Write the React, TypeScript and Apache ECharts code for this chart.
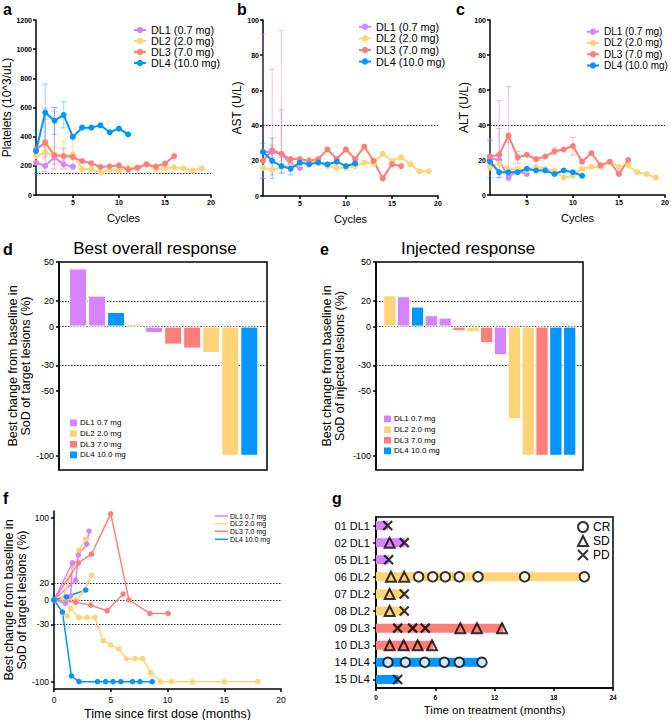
import React, { useEffect, useRef } from 'react';
import * as echarts from 'echarts';

const FONT = "'Liberation Sans', Arial, Helvetica, sans-serif";
const COLORS = ['#D783FF', '#FFD479', '#FF7E79', '#0096FF'];
const COLORS_ERR = ['rgba(215,131,255,0.45)', 'rgba(255,200,100,0.55)', 'rgba(255,126,121,0.45)', 'rgba(0,150,255,0.35)'];
const namesTop = ['DL1 (0.7 mg)', 'DL2 (2.0 mg)', 'DL3 (7.0 mg)', 'DL4 (10.0 mg)'];
const namesBars = ['DL1 0.7 mg', 'DL2 2.0 mg', 'DL3 7.0 mg', 'DL4 10.0 mg'];
const cycleTicks = [5, 10, 15, 20];
const responseTicks = [50, 20, 0, -30, -50, -100];
const responseRefLines = [20, 0, -30];
const timeTicks = [100, 20, 0, -30, -100];

// a: platelets
const plateletsDL1 = [221, 200, 258, 210, 194];
const plateletsDL2 = [267, 290, 274, 267, 279, 178, 178, 153, 174, 167, 187, 180, 212, 178, 183, 190, 183, 167, 183];
const plateletsDL3 = [313, 359, 272, 267, 260, 233, 218, 192, 197, 203, 174, 188, 210, 195, 215, 267];
const plateletsDL4 = [300, 565, 510, 549, 398, 462, 462, 478, 430, 455, 416];
const plateletsErrDL1 = [[2, 160, 595], [3, 210, 600], [4, 180, 240]];
const plateletsErrDL2 = [[1, 230, 300], [2, 200, 380], [3, 210, 330], [4, 180, 370], [5, 200, 410]];
const plateletsErrDL3 = [[1, 270, 340], [2, 260, 520], [3, 180, 575], [4, 220, 320]];
const plateletsErrDL4 = [[1, 150, 445], [2, 370, 760], [3, 415, 600], [4, 460, 640]];
const plateletsLimit = 150;

// b: AST
const astDL1 = [25, 25, 24, 18, 16];
const astDL2 = [16, 15, 16, 17, 18, 20, 19, 17, 16, 16, 17, 19, 18.5, 24, 20, 22, 18, 14, 14];
const astDL3 = [20, 26, 24, 21, 21, 20, 21, 26.5, 21, 26.5, 21, 28, 20, 10, 18, 17];
const astDL4 = [25, 20, 17, 15.5, 19, 18, 19, 18, 19.5, 17, 18.5];
const astErrDL1 = [[1, 10, 92], [2, 12, 72], [3, 13, 94]];
const astErrDL2 = [[5, 16, 21], [6, 18, 22]];
const astErrDL3 = [[2, 22, 29], [3, 20, 49]];
const astErrDL4 = [[1, 10, 30], [2, 10, 33], [3, 13, 22], [4, 12, 18]];
const astLimit = 40;

// c: ALT
const altDL1 = [21, 20, 10, 14, 12];
const altDL2 = [16, 18, 15, 14.5, 14, 16, 15, 14, 10, 11, 15, 16, 16, 19, 16, 17, 13, 12, 10];
const altDL3 = [22, 23, 34, 21.5, 23, 20.5, 22, 25, 26, 28, 19, 24, 17, 19, 12, 20];
const altDL4 = [19, 13, 13, 13, 15, 14, 14, 12, 14, 13, 11];
const altErrDL1 = [[1, 16, 32], [2, 10, 54], [3, 8, 62], [4, 12, 16]];
const altErrDL2 = [[1, 14, 18]];
const altErrDL3 = [[2, 20, 38], [3, 30, 35], [4, 18, 25], [8, 23, 27], [10, 23, 33]];
const altErrDL4 = [[1, 10, 31], [2, 10, 20]];
const altLimit = 40;

// d: best overall response
const bestValues = [45, 24, 11.3, 2.2, -5, -14, -17, -20.5, -100, -100];
const bestGroups = [1, 1, 4, 2, 1, 3, 3, 2, 2, 4];
// e: injected response
const injValues = [24.3, 23.5, 15.5, 8.8, 7, -3.6, -4.4, -12.9, -22.2, -71.8, -100, -100, -100, -100];
const injGroups = [2, 1, 4, 1, 1, 3, 2, 3, 1, 2, 2, 3, 4, 4];

// f: change over time, one track per patient
const fTracks = [
  { group: 1, data: [[0, 0], [1.0, -4.5], [1.47, 4.5], [1.62, 45]] },
  { group: 1, data: [[0, 0], [1.92, 24], [2.15, 55], [2.89, 68], [3.09, 84]] },
  { group: 1, data: [[0, 0], [1.62, 45]] },
  { group: 2, data: [[0, 0], [0.74, -16], [1.15, -20], [1.47, -10.5], [2.2, -21.5], [2.9, -21.5], [3.6, -21.5], [4.33, -50], [5.0, -55], [5.71, -60], [6.39, -72], [7.13, -72], [7.8, -72], [8.5, -88.6], [9.39, -100], [10.36, -100], [12.18, -100], [15, -100], [17.95, -100]] },
  { group: 2, data: [[0, 0], [0.8, 2.4], [2.2, 60.6], [2.8, 74]] },
  { group: 2, data: [[0, 0], [1.97, 0], [2.65, 11], [3.3, 30]] },
  { group: 3, data: [[0, 0], [2.15, 45], [3.3, 55.7], [5.0, 105], [6.6, 0], [8.45, -16.6], [10.06, -16.6]] },
  { group: 3, data: [[0, 0], [1.9, -3], [3.24, -6.5], [4.68, -13.4], [6.09, 7]] },
  { group: 4, data: [[0, 0], [0.75, -15], [1.53, -93], [2.2, -100], [3.83, -100], [4.54, -100], [5.2, -100], [5.88, -100], [6.92, -100], [7.57, -100], [8.65, -100]] },
  { group: 4, data: [[0, 0], [1.09, 3.7], [2.8, 12]] },
];

// g: swimmer plot
const gPatients = ['01 DL1', '02 DL1', '05 DL1', '06 DL2', '07 DL2', '08 DL2', '09 DL3', '10 DL3', '14 DL4', '15 DL4'];
const gDuration = [1.2, 2.9, 1.3, 21.4, 2.9, 2.9, 12.9, 5.8, 11.0, 2.3];
const gGroups = [1, 1, 1, 2, 2, 2, 3, 3, 4, 4];
const gCR = [[4.32, '06 DL2'], [5.74, '06 DL2'], [7.02, '06 DL2'], [8.43, '06 DL2'], [10.33, '06 DL2'], [15.05, '06 DL2'], [21.1, '06 DL2'],
  [1.21, '14 DL4'], [2.97, '14 DL4'], [4.93, '14 DL4'], [6.92, '14 DL4'], [8.43, '14 DL4'], [10.73, '14 DL4']];
const gSD = [[1.38, '02 DL1'], [1.52, '06 DL2'], [2.86, '06 DL2'], [1.38, '07 DL2'], [1.38, '08 DL2'], [8.54, '09 DL3'], [10.22, '09 DL3'], [12.76, '09 DL3'],
  [1.38, '10 DL3'], [2.8, '10 DL3'], [4.22, '10 DL3'], [5.67, '10 DL3']];
const gPD = [[1.18, '01 DL1'], [2.86, '02 DL1'], [1.28, '05 DL1'], [2.86, '07 DL2'], [2.86, '08 DL2'], [2.19, '09 DL3'], [3.71, '09 DL3'], [4.99, '09 DL3'], [2.19, '15 DL4']];

const num = (v: any) => String(v);
const aLine = (extra: any = {}) => ({ show: true, onZero: false, lineStyle: { color: '#000', width: 1.5 }, ...extra });
const aTick = (extra: any = {}) => ({ show: true, inside: false, length: 3, lineStyle: { color: '#000', width: 1.5 }, ...extra });
const aLabel = (fontSize: number, extra: any = {}) => ({ show: true, color: '#000', fontSize, fontFamily: FONT, fontWeight: 'normal', formatter: num, ...extra });
const nStyle = (fontSize: number, extra: any = {}) => ({ color: '#000', fontSize, fontFamily: FONT, fontWeight: 'normal', ...extra });

function buildOption() {
  const grid = [
    { left: 36, top: 20, width: 175, height: 175 },
    { left: 263, top: 20, width: 175, height: 176 },
    { left: 490, top: 20, width: 175, height: 175 },
    { left: 59, top: 262, width: 208, height: 208, show: true, borderColor: '#000', borderWidth: 1.5, backgroundColor: 'transparent' },
    { left: 376, top: 262, width: 207, height: 208, show: true, borderColor: '#000', borderWidth: 1.5, backgroundColor: 'transparent' },
    { left: 54, top: 511, width: 227, height: 178 },
    { left: 376, top: 517, width: 237, height: 171, show: true, borderColor: '#000', borderWidth: 1.5, backgroundColor: 'transparent' },
  ].map((g) => ({ containLabel: false, outerBoundsMode: 'none', ...g }));

  const cycleX = (gi: number) => ({
    type: 'value', gridIndex: gi, min: 1, max: 20,
    axisLine: aLine(), axisTick: aTick({ customValues: cycleTicks }),
    axisLabel: aLabel(7, { fontWeight: 'bold', margin: 4, customValues: cycleTicks }),
    splitLine: { show: false },
    name: 'Cycles', nameLocation: 'middle', nameGap: 17, nameTextStyle: nStyle(11),
  });
  const labY = (gi: number, max: number, interval: number, name: string, nameGap: number) => ({
    type: 'value', gridIndex: gi, min: 0, max, interval,
    axisLine: aLine(), axisTick: aTick(), axisLabel: aLabel(7, { fontWeight: 'bold', margin: 4 }),
    splitLine: { show: false },
    name, nameLocation: 'middle', nameGap, nameTextStyle: nStyle(12),
  });

  const xAxis: any[] = [
    cycleX(0), cycleX(1), cycleX(2),
    { type: 'value', gridIndex: 3, min: 0, max: 10.93, show: false, splitLine: { show: false } },
    { type: 'value', gridIndex: 4, min: 0, max: 14.96, show: false, splitLine: { show: false } },
    {
      type: 'value', gridIndex: 5, min: 0, max: 20, interval: 5,
      axisLine: aLine(), axisTick: aTick(), axisLabel: aLabel(8.5, { margin: 6 }), splitLine: { show: false },
      name: 'Time since first dose (months)', nameLocation: 'middle', nameGap: 18, nameTextStyle: nStyle(12.5),
    },
    {
      type: 'value', gridIndex: 6, min: 0, max: 24, interval: 6,
      axisLine: aLine(), axisTick: aTick(), axisLabel: aLabel(6.5, { fontWeight: 'bold', margin: 6 }), splitLine: { show: false },
      name: 'Time on treatment (months)', nameLocation: 'middle', nameGap: 16, nameTextStyle: nStyle(11.5),
    },
  ];
  const respY = (gi: number, name: string, nameGap: number) => ({
    type: 'value', gridIndex: gi, min: -111, max: 50,
    axisLine: aLine(), axisTick: aTick({ customValues: responseTicks }),
    axisLabel: aLabel(9, { margin: 5, customValues: responseTicks }), splitLine: { show: false },
    name, nameLocation: 'middle', nameGap, nameTextStyle: nStyle(12.5, { lineHeight: 13 }),
  });
  const yAxis: any[] = [
    labY(0, 1200, 200, 'Platelets (10^3/uL)', 21),
    labY(1, 100, 20, 'AST (U/L)', 16),
    labY(2, 100, 20, 'ALT (U/L)', 13),
    respY(3, 'Best change from baseline in\nSoD of target lesions (%)', 27),
    respY(4, 'Best change from baseline in\nSoD of injected lesions (%)', 30),
    {
      type: 'value', gridIndex: 5, min: -109, max: 108.5,
      axisLine: aLine(), axisTick: aTick({ customValues: timeTicks }),
      axisLabel: aLabel(8.5, { margin: 5, customValues: timeTicks }), splitLine: { show: false },
      name: 'Best change from baseline in\nSoD of target lesions (%)', nameLocation: 'middle', nameGap: 25,
      nameTextStyle: nStyle(12.5, { lineHeight: 13 }),
    },
    {
      type: 'category', gridIndex: 6, data: gPatients, inverse: true,
      axisLine: aLine(), axisTick: aTick({ alignWithLabel: true }), axisLabel: aLabel(11, { margin: 6 }),
      splitLine: { show: false },
    },
  ];

  const series: any[] = [];
  const dotted = { type: [1.5, 1.5], color: '#222', width: 1 };
  const refLine = (values: number[], z = 1) => ({
    silent: true, symbol: ['none', 'none'], z, label: { show: false }, lineStyle: dotted,
    emphasis: { disabled: true }, data: values.map((v) => ({ yAxis: v })),
  });

  const labPanels = [
    { gi: 0, vals: [plateletsDL1, plateletsDL2, plateletsDL3, plateletsDL4], errs: [plateletsErrDL1, plateletsErrDL2, plateletsErrDL3, plateletsErrDL4], limit: plateletsLimit },
    { gi: 1, vals: [astDL1, astDL2, astDL3, astDL4], errs: [astErrDL1, astErrDL2, astErrDL3, astErrDL4], limit: astLimit },
    { gi: 2, vals: [altDL1, altDL2, altDL3, altDL4], errs: [altErrDL1, altErrDL2, altErrDL3, altErrDL4], limit: altLimit },
  ];
  labPanels.forEach((p) => {
    p.errs.forEach((err, k) => {
      series.push({
        type: 'custom', name: 'err', xAxisIndex: p.gi, yAxisIndex: p.gi, z: 1, silent: true,
        encode: { x: 0, y: [1, 2] }, data: err,
        renderItem: (params: any, api: any) => {
          const x = api.value(0);
          const p1 = api.coord([x, api.value(1)]);
          const p2 = api.coord([x, api.value(2)]);
          const w = 3;
          const style = { stroke: COLORS_ERR[k], lineWidth: 1.2, fill: 'none' };
          return {
            type: 'group', children: [
              { type: 'line', shape: { x1: p1[0], y1: p1[1], x2: p2[0], y2: p2[1] }, style },
              { type: 'line', shape: { x1: p1[0] - w, y1: p1[1], x2: p1[0] + w, y2: p1[1] }, style },
              { type: 'line', shape: { x1: p2[0] - w, y1: p2[1], x2: p2[0] + w, y2: p2[1] }, style },
            ],
          };
        },
      });
    });
    p.vals.forEach((vals, k) => {
      series.push({
        type: 'line', name: namesTop[k], xAxisIndex: p.gi, yAxisIndex: p.gi, z: 3 + (k === 3 ? 1 : 0),
        data: vals.map((v, i) => [i + 1, v]), symbol: 'circle', symbolSize: 6, showSymbol: true,
        itemStyle: { color: COLORS[k] }, lineStyle: { color: COLORS[k], width: 2 },
        emphasis: { disabled: true },
        markLine: k === 0 ? refLine([p.limit]) : undefined,
      });
    });
  });

  const barPanel = (gi: number, values: number[], groups: number[], barWidth: number) => {
    for (let k = 0; k < 4; k++) {
      series.push({
        type: 'bar', name: namesBars[k], xAxisIndex: gi, yAxisIndex: gi, barWidth, barGap: '-100%', z: 2,
        data: values.flatMap((v, i) => (groups[i] === k + 1 ? [[i + 1, v]] : [])),
        itemStyle: { color: COLORS[k], borderColor: '#fff', borderWidth: 1 },
        emphasis: { disabled: true },
        markLine: k === 0 ? refLine(responseRefLines, 1) : undefined,
      });
    }
  };
  barPanel(3, bestValues, bestGroups, 18);
  barPanel(4, injValues, injGroups, 13.3);

  fTracks.forEach((t, idx) => {
    series.push({
      type: 'line', name: 'track' + idx, xAxisIndex: 5, yAxisIndex: 5, z: 3,
      data: t.data, symbol: 'circle', symbolSize: 5.5,
      itemStyle: { color: COLORS[t.group - 1] }, lineStyle: { color: COLORS[t.group - 1], width: 1.5 },
      emphasis: { disabled: true },
      markLine: idx === 0 ? refLine(responseRefLines, 1) : undefined,
    });
  });

  series.push({
    type: 'bar', name: 'duration', xAxisIndex: 6, yAxisIndex: 6, barWidth: 9, z: 2,
    data: gDuration.map((d, i) => ({ value: d, itemStyle: { color: COLORS[gGroups[i] - 1] } })),
    emphasis: { disabled: true },
  });
  series.push({
    type: 'scatter', name: 'CR', xAxisIndex: 6, yAxisIndex: 6, z: 4, data: gCR, symbol: 'circle', symbolSize: 9.5,
    itemStyle: { color: '#fff', borderColor: '#000', borderWidth: 2 }, emphasis: { disabled: true },
  });
  series.push({
    type: 'scatter', name: 'SD', xAxisIndex: 6, yAxisIndex: 6, z: 4, data: gSD, symbol: 'triangle', symbolSize: 10,
    itemStyle: { color: 'rgba(0,0,0,0)', borderColor: '#000', borderWidth: 2 }, emphasis: { disabled: true },
  });
  series.push({
    type: 'scatter', name: 'PD', xAxisIndex: 6, yAxisIndex: 6, z: 4, data: gPD, symbol: 'path://M0,0L10,10M10,0L0,10', symbolSize: 9,
    itemStyle: { color: 'rgba(0,0,0,0)', borderColor: '#000', borderWidth: 2.2 }, emphasis: { disabled: true },
  });

  const topLegend = (left: number, top: number, lh: number, fs: number) => ({
    show: true, orient: 'vertical', left, top, padding: 0, itemGap: 0, itemWidth: 12, itemHeight: 8,
    selectedMode: false, data: namesTop,
    textStyle: { fontSize: fs, color: '#000', fontFamily: FONT, fontWeight: 'normal', lineHeight: lh },
  });
  const barLegend = (left: number, top: number) => ({
    show: true, orient: 'vertical', left, top, padding: 0, itemGap: 0, itemWidth: 9, itemHeight: 8.7, icon: 'rect',
    selectedMode: false, data: namesBars,
    textStyle: { fontSize: 8, color: '#000', fontFamily: FONT, fontWeight: 'normal', lineHeight: 8.7, padding: [0, 0, 0, -3] },
  });
  const legend = [
    topLegend(133, 24.5, 11, 10.8),
    topLegend(358, 21, 11.6, 10.8),
    topLegend(586, 26, 11.3, 10),
    barLegend(68, 417.5),
    barLegend(382, 413.5),
    {
      show: true, orient: 'vertical', left: 577, top: 521, padding: 0, itemGap: 2, itemWidth: 10, itemHeight: 10,
      selectedMode: false, data: ['CR', 'SD', 'PD'],
      textStyle: { fontSize: 12, color: '#000', fontFamily: FONT, fontWeight: 'normal', lineHeight: 10 },
    },
  ];

  const txt = (text: string, x: number, y: number, fontSize: number, opts: any = {}) => ({
    type: 'text', x, y, silent: true,
    style: {
      text, fill: '#000', fontSize, fontFamily: FONT, fontWeight: opts.bold ? 'bold' : 'normal',
      align: opts.align || 'left', verticalAlign: opts.va || 'top',
      textAlign: opts.align || 'left', textVerticalAlign: opts.va || 'top',
    },
  });
  const graphic: any[] = [
    txt('a', 3, 1, 16, { bold: true }),
    txt('b', 237, 1, 16, { bold: true }),
    txt('c', 456, 1, 16, { bold: true }),
    txt('d', 3, 241, 16, { bold: true }),
    txt('e', 320, 241, 16, { bold: true }),
    txt('f', 3, 490, 16, { bold: true }),
    txt('g', 332, 490, 16, { bold: true }),
    txt('Best overall response', 155, 248, 17, { align: 'center', va: 'middle' }),
    txt('Injected response', 468, 248, 17, { align: 'center', va: 'middle' }),
  ];
  const fLegendY = [516, 523.7, 531.3, 539.3];
  namesBars.forEach((n, k) => {
    graphic.push({ type: 'line', silent: true, shape: { x1: 215, y1: fLegendY[k], x2: 228, y2: fLegendY[k] }, style: { stroke: COLORS[k], lineWidth: 1.5 } });
    graphic.push(txt(n, 230, fLegendY[k], 7, { va: 'middle' }));
  });

  return {
    animation: false,
    backgroundColor: '#fff',
    textStyle: { fontFamily: FONT },
    tooltip: { show: false },
    grid, xAxis, yAxis, series, legend, graphic,
  };
}

export default function App() {
  const ref = useRef<HTMLDivElement>(null);
  useEffect(() => {
    document.body.style.margin = '0';
    const chart = echarts.init(ref.current as HTMLDivElement, null, { renderer: 'svg' });
    chart.setOption(buildOption() as any);
    return () => chart.dispose();
  }, []);
  return <div ref={ref} style={{ width: 671, height: 720 }} />;
}
